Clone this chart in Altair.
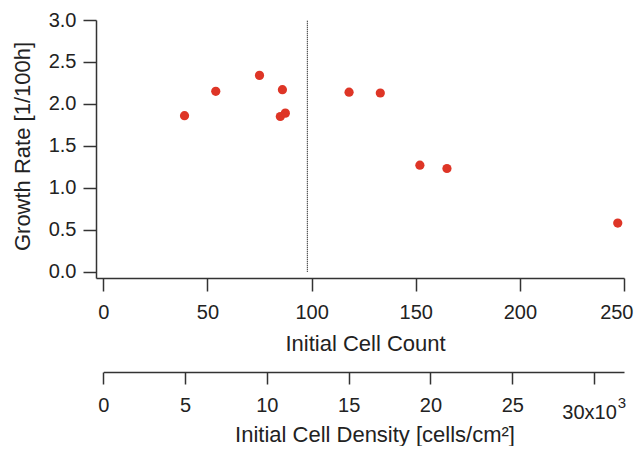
import math
import altair as alt
import pandas as pd

# ---- data ----
initial_count = [39, 54, 75, 86, 85, 87.4, 118, 133, 152, 165, 247]
growth_rate = [1.86, 2.15, 2.34, 2.17, 1.85, 1.89, 2.14, 2.13, 1.27, 1.23, 0.58]
count_ticks = [0, 50, 100, 150, 200, 250]
rate_ticks = [0.0, 0.5, 1.0, 1.5, 2.0, 2.5, 3.0]
density_ticks = [0, 5, 10, 15, 20, 25, 30]          # x10^3 cells/cm^2
threshold_count = [98]
threshold_span = [0.0, 3.0]
well_area_cm2 = math.pi * 0.05 ** 2                 # 1 mm diameter well

# ---- layout ----
W, H = 528, 258
count_domain = [-3.5, 250]
rate_domain = [-0.075, 3.0]
x0_px = W * (0 - count_domain[0]) / (count_domain[1] - count_domain[0])
density_max = count_domain[1] / well_area_cm2 / 1000.0
DENS_OFFSET = 94

FONT = "Liberation Sans"
RED = "#de3526"
LBL = 20

df = pd.DataFrame({"count": initial_count, "rate": growth_rate})
rule_df = pd.DataFrame({"count": threshold_count, "rate": [threshold_span[0]], "rate2": [threshold_span[1]]})

count_scale = alt.Scale(domain=count_domain, nice=False, zero=False)
rate_scale = alt.Scale(domain=rate_domain, nice=False, zero=False)

count_axis = alt.Axis(orient="bottom", values=count_ticks, format="d",
                      labelExpr=f"datum.value == {count_ticks[-1]} ? '' : datum.label",
                      tickSize=13, labelPadding=11, labelFlush=False,
                      labelOverlap=False,
                      title="Initial Cell Count", titleX=269, titleY=72,
                      titleBaseline="alphabetic", titleAlign="center")
rate_axis = alt.Axis(values=rate_ticks, format=".1f", tickSize=13,
                     labelPadding=7, labelFlush=False, labelOverlap=False,
                     title="Growth Rate [1/100h]", titleX=-66.7, titleY=126,
                     titleBaseline="alphabetic", titleAlign="center",
                     titleAngle=270)

points = alt.Chart(df).mark_circle(size=85, color=RED, opacity=1).encode(
    x=alt.X("count:Q", scale=count_scale, axis=count_axis),
    y=alt.Y("rate:Q", scale=rate_scale, axis=rate_axis),
)

rule = alt.Chart(rule_df).mark_rule(color="#222222", strokeDash=[1, 1], strokeWidth=1.2).encode(
    x=alt.X("count:Q", scale=count_scale, axis=count_axis),
    y=alt.Y("rate:Q", scale=rate_scale, axis=rate_axis),
    y2="rate2:Q",
)

main = alt.layer(points, rule)

# last count label, kept inside the page edge
count_last = alt.Chart(df).mark_point(opacity=0).encode(
    x=alt.X("count:Q", scale=count_scale,
            axis=alt.Axis(orient="bottom", values=[count_ticks[-1]], format="d",
                          ticks=False, tickSize=0, domain=False,
                          labelPadding=24, labelAlign="right", labelOffset=9,
                          labelFlush=False, labelOverlap=False, title=None)),
)

density_scale = alt.Scale(domain=[0, density_max], range=[x0_px, W], nice=False, zero=False)
dens_base = alt.Chart(df).transform_calculate(
    density=f"datum.count / {well_area_cm2} / 1000"
)

dens_axis = dens_base.mark_point(opacity=0).encode(
    x=alt.X("density:Q", scale=density_scale,
            axis=alt.Axis(orient="bottom", offset=DENS_OFFSET, values=density_ticks,
                          labelExpr="datum.value == 30 ? '' : datum.label",
                          tickSize=12, labelPadding=11, labelFlush=False,
                          labelOverlap=False,
                          title="Initial Cell Density [cells/cm²]",
                          titleX=278.5, titleY=69, titleBaseline="alphabetic",
                          titleAlign="center")),
)

dens_30 = dens_base.mark_point(opacity=0).encode(
    x=alt.X("density:Q", scale=density_scale,
            axis=alt.Axis(orient="bottom", offset=DENS_OFFSET, values=[30],
                          labelExpr="'30x10'", ticks=False, tickSize=0,
                          domain=False, labelPadding=30, labelOffset=-5,
                          labelFlush=False, labelOverlap=False, title=None)),
)

dens_exp = dens_base.mark_point(opacity=0).encode(
    x=alt.X("density:Q", scale=density_scale,
            axis=alt.Axis(orient="bottom", offset=DENS_OFFSET, values=[30],
                          labelExpr="'3'", ticks=False, tickSize=0,
                          domain=False, labelPadding=23, labelOffset=27.4,
                          labelFontSize=15,
                          labelFlush=False, labelOverlap=False, title=None)),
)

chart = alt.layer(main, count_last, dens_axis, dens_30, dens_exp).resolve_scale(
    x="independent"
).properties(
    width=W, height=H,
    padding={"left": 88, "top": 12, "right": 10, "bottom": 168},
    autosize=alt.AutoSizeParams(type="none"),
).configure(
    font=FONT,
).configure_axis(
    labelFont=FONT, titleFont=FONT,
    labelFontSize=LBL, titleFontSize=22, titleFontWeight="normal",
    labelColor="#222222", titleColor="#222222",
    domainColor="#333333", tickColor="#333333",
    domainWidth=1.5, tickWidth=1.5, grid=False,
).configure_view(stroke=None)

chart.save("out.html", embed_options={"renderer": "svg", "actions": False})
